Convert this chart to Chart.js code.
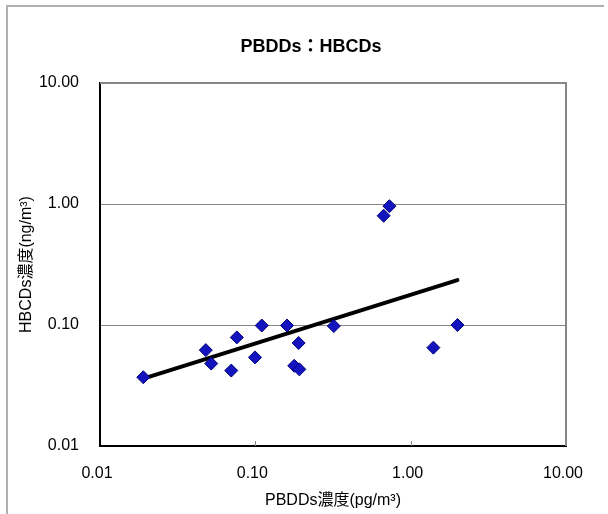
<!DOCTYPE html>
<html>
<head>
<meta charset="utf-8">
<script src="https://cdn.jsdelivr.net/npm/chart.js@4"></script>
<style>
  html, body { margin: 0; padding: 0; background: #fff; }
  #wrap { width: 608px; height: 514px; }
</style>
</head>
<body>
<div id="wrap"><canvas id="chart" width="608" height="514"></canvas></div>
<script>
// ---- data ----
const pbdd  = [0.019, 0.048, 0.052, 0.070, 0.076, 0.0995, 0.11, 0.16, 0.178, 0.19, 0.192, 0.32, 0.67, 0.73, 1.40, 2.0];
const hbcd  = [0.037, 0.062, 0.048, 0.042, 0.079, 0.054, 0.099, 0.099, 0.046, 0.071, 0.043, 0.098, 0.80, 0.96, 0.065, 0.100];
const trendX = [0.019, 2.0];
const trendY = [0.036, 0.235];
const tickVals = [0.01, 0.1, 1, 10];

const FONT = '"Liberation Sans", "Noto Sans CJK JP", Arial, sans-serif';
const GRAY = '#868686';

// frame, top/right plot edges and inside x tick marks
const decor = {
  id: 'decor',
  beforeDraw(chart) {
    const c = chart.ctx;
    c.save();
    c.fillStyle = '#fff';
    c.fillRect(0, 0, chart.width, chart.height);
    c.fillStyle = '#b0b0b0';
    c.fillRect(6, 5, 2, chart.height - 5);
    c.fillRect(6, 5, 598, 2);
    c.restore();
  },
  beforeDatasetsDraw(chart) {
    const c = chart.ctx, a = chart.chartArea, xs = chart.scales.x;
    c.save();
    c.strokeStyle = GRAY;
    c.lineWidth = 2;
    c.beginPath();
    c.moveTo(a.left, a.top); c.lineTo(a.right, a.top); c.lineTo(a.right, a.bottom);
    c.stroke();
    c.lineWidth = 1;
    c.beginPath();
    [0.1, 1].forEach(v => {
      const px = Math.round(xs.getPixelForValue(v)) + 0.5;
      c.moveTo(px, a.bottom); c.lineTo(px, a.bottom - 5);
    });
    c.stroke();
    c.restore();
  }
};

const fixTicks = scale => { scale.ticks = tickVals.map(v => ({ value: v })); };

new Chart(document.getElementById('chart'), {
  type: 'scatter',
  data: {
    datasets: [
      {
        label: 'trend',
        data: trendX.map((x, i) => ({ x, y: trendY[i] })),
        showLine: true,
        borderColor: '#000',
        borderWidth: 4,
        borderCapStyle: 'round',
        pointRadius: 0,
        order: 2
      },
      {
        label: 'PBDDs:HBCDs',
        data: pbdd.map((x, i) => ({ x, y: hbcd[i] })),
        pointStyle: 'rectRot',
        pointRadius: 6.5,
        backgroundColor: '#1414bf',
        borderColor: '#00007a',
        borderWidth: 1,
        order: 1
      }
    ]
  },
  options: {
    responsive: false,
    animation: false,
    devicePixelRatio: 1,
    layout: { padding: { top: 0, right: 0, bottom: 0, left: 14 } },
    plugins: {
      legend: { display: false },
      tooltip: { enabled: false },
      title: {
        display: true,
        text: 'PBDDs：HBCDs',
        color: '#000',
        font: { family: FONT, size: 18, weight: 'bold', lineHeight: 1.2 },
        padding: { top: 36, bottom: 25.4 }
      }
    },
    scales: {
      x: {
        type: 'logarithmic',
        min: 0.01, max: 10,
        afterBuildTicks: fixTicks,
        afterFit: s => { s.height = 68; },
        grid: { display: false, drawTicks: false },
        border: { display: true, color: '#000', width: 2 },
        ticks: {
          color: '#000', padding: 18, labelOffset: -3, maxRotation: 0,
          font: { family: FONT, size: 16 },
          callback: v => Number(v).toFixed(2)
        },
        title: {
          display: true,
          text: 'PBDDs濃度(pg/m³)',
          color: '#000',
          font: { family: FONT, size: 16 },
          padding: { top: 0, bottom: 4 }
        }
      },
      y: {
        type: 'logarithmic',
        min: 0.01, max: 10,
        afterBuildTicks: fixTicks,
        afterFit: s => { s.width = 86; },
        grid: {
          drawTicks: false,
          color: ctx => (ctx.tick && (ctx.tick.value === 1 || ctx.tick.value === 0.1)) ? GRAY : 'rgba(0,0,0,0)',
          lineWidth: 1
        },
        border: { display: true, color: '#000', width: 2 },
        ticks: {
          color: '#000', padding: 21,
          font: { family: FONT, size: 16 },
          callback: v => Number(v).toFixed(2)
        },
        title: {
          display: true,
          text: 'HBCDs濃度(ng/m³)',
          color: '#000',
          font: { family: FONT, size: 16 },
          padding: { top: 3, bottom: 0 }
        }
      },
      // empty right-hand box that keeps the plot clear of the right edge
      yr: {
        position: 'right',
        display: true,
        afterFit: s => { s.width = 42; },
        grid: { display: false, drawTicks: false },
        border: { display: false },
        ticks: { display: false }
      }
    }
  },
  plugins: [decor]
});
</script>
</body>
</html>
